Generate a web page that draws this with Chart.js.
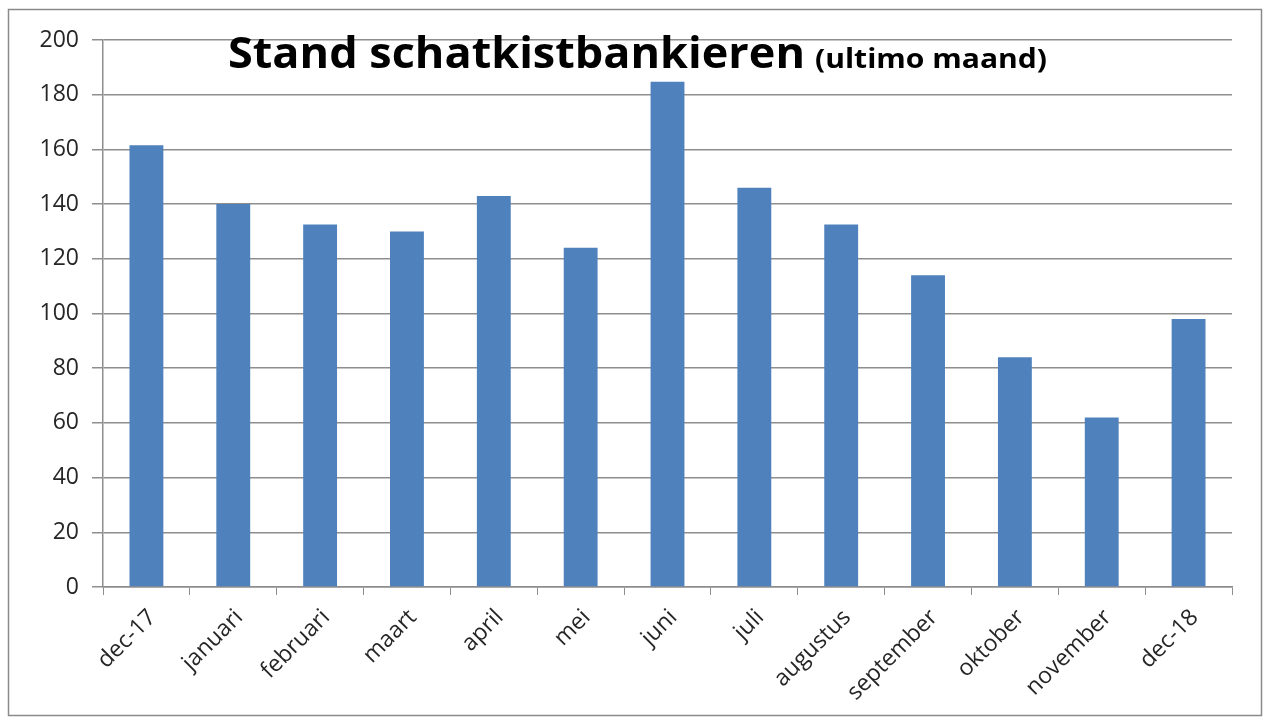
<!DOCTYPE html>
<html>
<head>
<meta charset="utf-8">
<script src="https://cdn.jsdelivr.net/npm/chart.js@4/dist/chart.umd.min.js"></script>
<style>
  html, body { margin: 0; padding: 0; background: #ffffff; }
  #wrap { width: 1266px; height: 721px; position: relative; }
</style>
</head>
<body>
<div id="wrap"><canvas id="c" width="1266" height="721"></canvas></div>
<script>
const categories = ["dec-17", "januari", "februari", "maart", "april", "mei", "juni", "juli", "augustus", "september", "oktober", "november", "dec-18"];
const values = [161.5, 140, 132.5, 130, 143, 124, 184.7, 146, 132.5, 114, 84, 62, 98];
const yTicks = [0, 20, 40, 60, 80, 100, 120, 140, 160, 180, 200];
const titleMain = "Stand schatkistbankieren";
const titleSub = "(ultimo maand)";

const GRID = "#8e8e8e";
const TEXT = "#262626";
const FONT = "'Open Sans', 'Liberation Sans', sans-serif";

const framePlugin = {
  id: "frame",
  afterDraw(chart) {
    const ctx = chart.ctx;
    ctx.save();
    ctx.strokeStyle = "#8a8a8a";
    ctx.lineWidth = 1.5;
    ctx.strokeRect(8.5, 9.5, 1253, 706);
    ctx.fillStyle = "#000000";
    ctx.textBaseline = "alphabetic";
    ctx.textAlign = "left";
    ctx.font = "bold 43px " + FONT;
    let w = ctx.measureText(titleMain).width;
    let sx = 577 / w;
    ctx.save();
    ctx.translate(228, 68);
    ctx.scale(sx, 1);
    ctx.fillText(titleMain, 0, 0);
    ctx.restore();
    ctx.font = "bold 26px " + FONT;
    w = ctx.measureText(titleSub).width;
    sx = 232 / w;
    ctx.save();
    ctx.translate(815, 68);
    ctx.scale(sx, 1);
    ctx.fillText(titleSub, 0, 0);
    ctx.restore();
    ctx.restore();
  }
};

new Chart(document.getElementById("c"), {
  type: "bar",
  data: {
    labels: categories,
    datasets: [{
      data: values,
      backgroundColor: "#4F81BD",
      borderWidth: 0,
      barPercentage: 0.39,
      categoryPercentage: 1.0
    }]
  },
  options: {
    responsive: false,
    animation: false,
    devicePixelRatio: 1,
    layout: { padding: { top: 40, right: 34, left: 0, bottom: 0 } },
    plugins: {
      legend: { display: false },
      title: { display: false },
      tooltip: { enabled: false }
    },
    scales: {
      x: {
        type: "category",
        grid: {
          display: true,
          offset: true,
          drawOnChartArea: false,
          drawTicks: true,
          tickLength: 8,
          color: GRID,
          lineWidth: 1
        },
        border: { display: true, color: GRID, width: 1.5 },
        ticks: {
          maxRotation: 45,
          minRotation: 45,
          autoSkip: false,
          padding: 9,
          labelOffset: 6,
          color: TEXT,
          font: { family: FONT, size: 23 }
        },
        afterFit(scale) { scale.height = 134; }
      },
      y: {
        min: 0,
        max: 200,
        afterBuildTicks(scale) { scale.ticks = yTicks.map(v => ({ value: v })); },
        grid: {
          display: true,
          drawTicks: true,
          tickLength: 11,
          color: GRID,
          lineWidth: 1.5
        },
        border: { display: true, color: GRID, width: 1.5 },
        ticks: {
          padding: 13,
          color: TEXT,
          font: { family: FONT, size: 23 }
        },
        afterFit(scale) { scale.width = 103; }
      }
    }
  },
  plugins: [framePlugin]
});
</script>
</body>
</html>
